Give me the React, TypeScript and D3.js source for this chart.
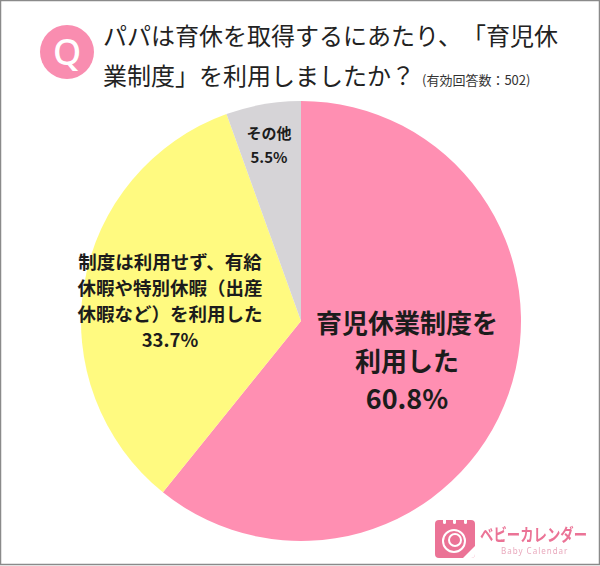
import React from 'react';
import * as d3 from 'd3';

const categories = ['育児休業制度を利用した', '制度は利用せず、有給休暇や特別休暇（出産休暇など）を利用した', 'その他'];
const values = [60.8, 33.7, 5.5];
const colors = ['#FF8FB2', '#FFFA80', '#D6D4D7'];
const titleLines = ['パパは育休を取得するにあたり、「育児休', '業制度」を利用しましたか？'];
const sampleNote = '(有効回答数：502)';
const pinkLabel = ['育児休業制度を', '利用した', '60.8%'];
const yellowLabel = ['制度は利用せず、有給', '休暇や特別休暇（出産', '休暇など）を利用した', '33.7%'];
const grayLabel = ['その他', '5.5%'];

const width = 600;
const height = 566;
const centerX = 301;
const centerY = 321;
const radius = 220;
const font = '"Noto Sans CJK JP", "Noto Sans", sans-serif';

const App: React.FC = () => {
    const slices = d3.pie<number>().sort(null)(values);
    const arc = d3.arc<d3.PieArcDatum<number>>().innerRadius(0).outerRadius(radius);

    return (
        <svg
            width={width}
            height={height}
            viewBox={`0 0 ${width} ${height}`}
            style={{ position: 'fixed', left: 0, top: 0, display: 'block', textSpacingTrim: 'space-all' } as React.CSSProperties}
            fontFamily={font}
        >
            <rect x={0.5} y={0.5} width={width - 1} height={height - 2} fill="#fff" stroke="#8a8a8a" strokeWidth={1.5} />

            {/* 質問 */}
            <circle cx={67} cy={52} r={27} fill="#F98DB0" />
            <text x={67} y={65} textAnchor="middle" fontSize={36} fontWeight={500} fill="#fff" fontFamily='"Noto Sans", sans-serif'>Q</text>
            {titleLines.map((t, i) => (
                <text key={t} x={103} y={45 + i * 40} fontSize={24} fill="#222" fontWeight={400}>{t}</text>
            ))}
            <text x={422} y={85} fontSize={13} fill="#333">{sampleNote}</text>

            {/* 円グラフ */}
            <g transform={`translate(${centerX}, ${centerY})`}>
                {slices.map((s, i) => (
                    <path key={categories[i]} d={arc(s) as string} fill={colors[i]} />
                ))}
            </g>

            {/* ラベル */}
            <g fill="#1c1c1c" textAnchor="middle" fontWeight={700}>
                {pinkLabel.map((t, i) => (
                    <text key={t} x={407} y={333 + i * 38} fontSize={i === 2 ? 27 : 26}>{t}</text>
                ))}
                {yellowLabel.map((t, i) => (
                    <text key={t} x={170} y={269 + i * 26} fontSize={18.5}>{t}</text>
                ))}
                {grayLabel.map((t, i) => (
                    <text key={t} x={269} y={139 + i * 24} fontSize={15}>{t}</text>
                ))}
            </g>

            {/* ロゴ */}
            <g fill="#EB7396">
                <rect x={435} y={520} width={40} height={38} rx={4} />
                <rect x={443} y={517} width={3} height={7} rx={1.5} fill="#fff" />
                <rect x={453} y={517} width={3} height={7} rx={1.5} fill="#fff" />
                <rect x={464} y={517} width={3} height={7} rx={1.5} fill="#fff" />
                <circle cx={454} cy={541} r={11} fill="none" stroke="#fff" strokeWidth={2} />
                <circle cx={455} cy={540} r={6} fill="none" stroke="#fff" strokeWidth={2} />
                <path d="M463 558 L475 546 L475 554 Q475 558 471 558 Z" fill="#fff" />
                <text transform="translate(480, 541) scale(1, 1.3)" fontSize={13.4} fontWeight={700}>ベビーカレンダー</text>
                <text x={501} y={554} fontSize={8} letterSpacing={1} fill="#E9A9BD" fontFamily='"Noto Sans", sans-serif'>Baby Calendar</text>
            </g>
        </svg>
    );
};

export default App;
